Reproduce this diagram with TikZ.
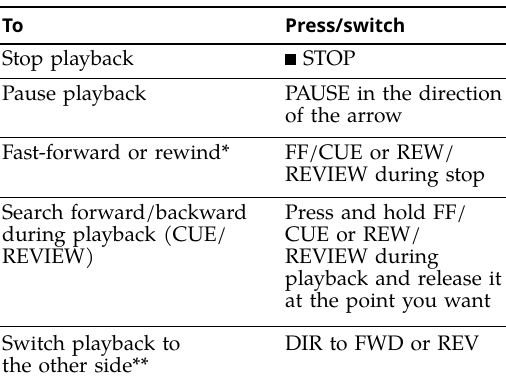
\documentclass[tikz,border=0pt]{standalone}
\usepackage{fontspec}
\setmainfont{texgyrepagella}[Extension=.otf, UprightFont=*-regular,
  BoldFont=*-bold, ItalicFont=*-italic, BoldItalicFont=*-bolditalic]
\newfontfamily\headfam{Open Sans}
\usetikzlibrary{positioning}
\newcommand{\bodyfont}{\hyphenpenalty=10000\fontsize{21}{22}\selectfont}
\newcommand{\headfont}{\headfam\bfseries\fontsize{19}{22}\selectfont}
\newcommand{\stopsq}{\rule{11pt}{11pt}}
\tikzset{
  cell/.style={ % one cell of the table
    anchor=base west, inner sep=0pt, text width=270pt,
    align=left, font=\bodyfont
  },
  head/.style={ % heading of a column
    anchor=base west, inner sep=0pt, font=\headfont
  },
  heavyrule/.style={line width=2pt},
  lightrule/.style={line width=0.9pt}
}

\begin{document}
\begin{tikzpicture}[x=1pt, y=-1pt]
    \useasboundingbox (0,0) rectangle (506,386);

    % rules of the table
    \draw[heavyrule] (0,7) -- (506,7);
    \draw[heavyrule] (0,43.5) -- (506,43.5);
    \foreach \ry in {78,137,197,326}
      \draw[lightrule] (0,\ry) -- (506,\ry);

    % headings
    \node[head] (to_head) at (2,32) {To};
    \node[head] (press_head) at (285,32) {Press/switch};

    % left column
    \node[cell] (stop) at (2,65) {Stop playback};
    \node[cell] (pause) at (2,100) {Pause playback};
    \node[cell] (ff) at (2,159) {Fast-forward or rewind*};
    \node[cell] (search) at (2,219) {Search forward/backward\\during playback (CUE/\\REVIEW)};
    \node[cell] (side) at (2,350) {Switch playback to\\the other side**};

    % right column
    \node[cell] (stop_key) at (285,65) {\stopsq\ STOP};
    \node[cell] (pause_key) at (285,100) {PAUSE in the direction\\of the arrow};
    \node[cell] (ff_key) at (285,159) {FF/CUE or REW/\\REVIEW during stop};
    \node[cell] (search_key) at (285,219) {Press and hold FF/\\CUE or REW/\\REVIEW during\\playback and release it\\at the point you want};
    \node[cell] (side_key) at (285,350) {DIR to FWD or REV};
  \end{tikzpicture}
\end{document}
